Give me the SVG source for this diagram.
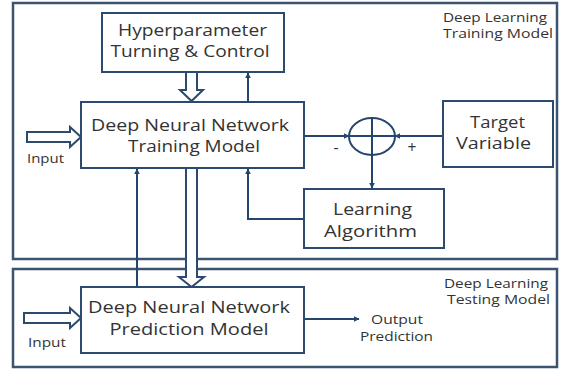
<svg xmlns="http://www.w3.org/2000/svg" width="565" height="370" viewBox="0 0 565 370">
<defs>
<marker id="ah" viewBox="0 0 10 10" refX="9" refY="5" markerWidth="6" markerHeight="6" orient="auto" markerUnits="userSpaceOnUse"><path d="M0,0 L10,5 L0,10 z" fill="#24466e"/></marker>
<style>
.frame{fill:none;stroke:#3d5470;stroke-width:2.5}
.box{fill:#fff;stroke:#2b4a6e;stroke-width:2}
.hollow{fill:#fff;stroke:#2b4a6e;stroke-width:2;stroke-linejoin:miter}
.line{fill:none;stroke:#24466e;stroke-width:2}
.t{font-family:"Open Sans","Liberation Sans",sans-serif;fill:#333;text-anchor:middle;font-weight:500}
.big{font-size:15.5px}
.sm{font-size:12px}
</style>
</defs>
<rect width="565" height="370" fill="#fff"/>
<g id="frames">
<rect class="frame" x="13" y="3" width="544" height="256"/>
<rect class="frame" x="13" y="269" width="544" height="98"/>
</g>
<g id="connectors">
<polygon class="hollow" points="186,72 197,72 197,90 203,90 191.5,101 180,90 186,90"/>
<line class="line" x1="248" y1="102" x2="248" y2="73" marker-end="url(#ah)"/>
<polygon class="hollow" points="27,132 70,132 70,127 81,137 70,147 70,142 27,142"/>
<line class="line" x1="137" y1="287" x2="137" y2="169" marker-end="url(#ah)"/>
<polygon class="hollow" points="186,168 197,168 197,277 204,277 191.5,287 179,277 186,277"/>
<polyline class="line" points="304,219 248,219 248,169" marker-end="url(#ah)"/>
<line class="line" x1="304" y1="136" x2="349" y2="136" marker-end="url(#ah)"/>
<line class="line" x1="443" y1="136" x2="395" y2="136" marker-end="url(#ah)"/>
<line class="line" x1="372" y1="118" x2="372" y2="188" marker-end="url(#ah)"/>
<polygon class="hollow" points="24,313 70,313 70,308 81,318 70,328 70,323 24,323"/>
<line class="line" x1="304" y1="319" x2="359" y2="319" marker-end="url(#ah)"/>
</g>
<g id="sum">
<ellipse cx="372" cy="136.5" rx="23" ry="18.5" fill="none" stroke="#24466e" stroke-width="2"/>
<line class="line" x1="349" y1="136" x2="395" y2="136"/>
<text class="t big" x="336" y="153">-</text>
<text class="t big" x="412" y="153">+</text>
</g>
<g id="hyper">
<rect class="box" x="102" y="13" width="182" height="59"/>
<text class="t big" x="192.5" y="36" textLength="149" lengthAdjust="spacingAndGlyphs">Hyperparameter</text>
<text class="t big" x="190" y="57" textLength="159" lengthAdjust="spacingAndGlyphs">Turning &amp; Control</text>
</g>
<g id="dnn-train">
<rect class="box" x="81" y="102" width="223" height="66"/>
<text class="t big" x="190" y="131" textLength="198" lengthAdjust="spacingAndGlyphs">Deep Neural Network</text>
<text class="t big" x="194" y="152" textLength="132" lengthAdjust="spacingAndGlyphs">Training Model</text>
</g>
<g id="target">
<rect class="box" x="443" y="101" width="110" height="66"/>
<text class="t big" x="497.5" y="128" textLength="55" lengthAdjust="spacingAndGlyphs">Target</text>
<text class="t big" x="493.5" y="149" textLength="75" lengthAdjust="spacingAndGlyphs">Variable</text>
</g>
<g id="learning">
<rect class="box" x="304" y="189" width="140" height="59"/>
<text class="t big" x="372.5" y="215" textLength="79" lengthAdjust="spacingAndGlyphs">Learning</text>
<text class="t big" x="370.5" y="237" textLength="93" lengthAdjust="spacingAndGlyphs">Algorithm</text>
</g>
<g id="dnn-pred">
<rect class="box" x="81" y="287" width="223" height="66"/>
<text class="t big" x="189" y="313" textLength="202" lengthAdjust="spacingAndGlyphs">Deep Neural Network</text>
<text class="t big" x="189" y="335" textLength="159" lengthAdjust="spacingAndGlyphs">Prediction Model</text>
</g>
<g id="labels">
<text class="t sm" x="45.5" y="163" textLength="37" lengthAdjust="spacingAndGlyphs">Input</text>
<text class="t sm" x="47" y="347" textLength="38" lengthAdjust="spacingAndGlyphs">Input</text>
<text class="t sm" x="397" y="324" textLength="52" lengthAdjust="spacingAndGlyphs">Output</text>
<text class="t sm" x="396.5" y="341" textLength="73" lengthAdjust="spacingAndGlyphs">Prediction</text>
<text class="t sm" x="495" y="22" textLength="104" lengthAdjust="spacingAndGlyphs">Deep Learning</text>
<text class="t sm" x="498" y="38" textLength="110" lengthAdjust="spacingAndGlyphs">Training Model</text>
<text class="t sm" x="496" y="288" textLength="104" lengthAdjust="spacingAndGlyphs">Deep Learning</text>
<text class="t sm" x="498.5" y="304" textLength="103" lengthAdjust="spacingAndGlyphs">Testing Model</text>
</g>
</svg>
